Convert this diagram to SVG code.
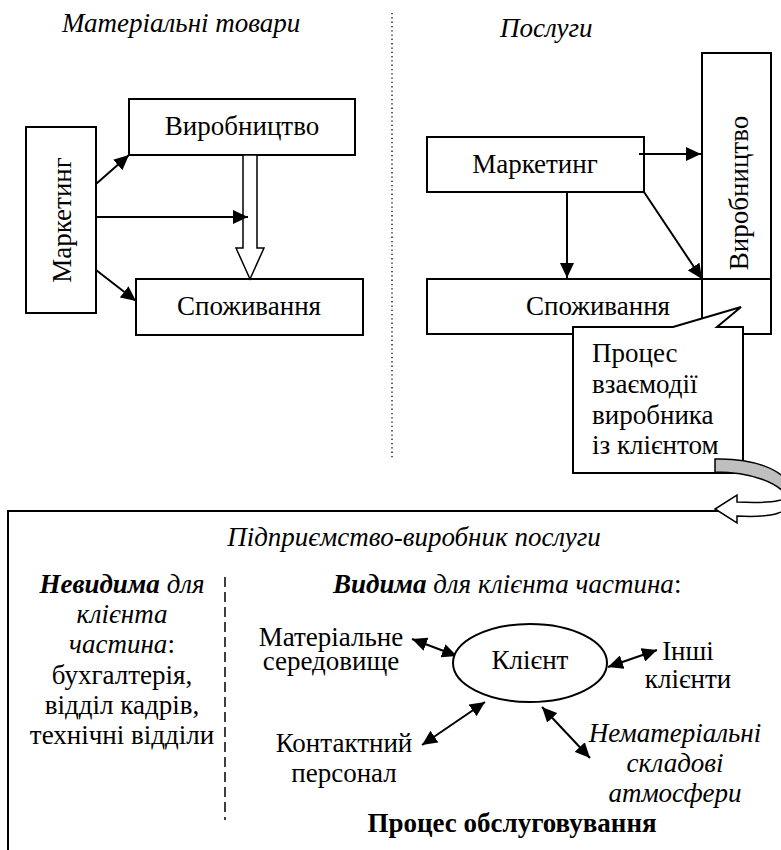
<svg xmlns="http://www.w3.org/2000/svg" width="781" height="850" viewBox="0 0 781 850">
<defs>
<style>
text{font-family:"Liberation Serif","Times New Roman",serif;font-size:27px;fill:#000}
.it{font-style:italic}
.b{font-weight:bold}
.m{text-anchor:middle}
.box{fill:#fff;stroke:#000;stroke-width:2}
.arr{stroke:#000;stroke-width:2;fill:none;marker-end:url(#ah)}
.dbl{stroke:#000;stroke-width:2;fill:none;marker-end:url(#ah);marker-start:url(#ah)}
</style>
<marker id="ah" markerUnits="userSpaceOnUse" markerWidth="16" markerHeight="14" refX="15" refY="7" orient="auto-start-reverse">
<path d="M0,0 L15,7 L0,14 Z" fill="#000"/>
</marker>
</defs>
<rect width="781" height="850" fill="#fff"/>

<text class="it" x="62" y="32">Матеріальні товари</text>
<text class="it" x="500" y="37">Послуги</text>
<line x1="392" y1="13" x2="392" y2="458" stroke="#000" stroke-width="1.3" stroke-dasharray="1.3,3"/>

<g id="l-vyrob"><rect class="box" x="129" y="99" width="226" height="56"/><text class="m" x="242" y="135">Виробництво</text></g>
<g id="l-market"><rect class="box" x="26" y="127" width="70" height="186"/><text class="m" transform="translate(71,220) rotate(-90)">Маркетинг</text></g>
<g id="l-spoz"><rect class="box" x="136" y="279" width="227" height="56"/><text class="m" x="249" y="315">Споживання</text></g>

<g id="r-vyrob"><rect class="box" x="702" y="53" width="69" height="281"/><text class="m" transform="translate(748,193) rotate(-90)">Виробництво</text></g>
<g id="r-spoz"><rect x="427" y="279" width="344" height="55" fill="none" stroke="#000" stroke-width="2"/><text class="m" x="598" y="315">Споживання</text></g>
<g id="r-market"><rect class="box" x="427" y="137" width="217" height="55"/><text class="m" x="535" y="173">Маркетинг</text></g>

<g id="connectors">
<polygon points="243,155 257,155 257,248 264,248 250,279 236,248 243,248" fill="#fff" stroke="#000" stroke-width="1.5"/>
<line class="arr" x1="96" y1="184" x2="129" y2="155"/>
<line class="arr" x1="96" y1="217" x2="248" y2="217"/>
<line class="arr" x1="96" y1="270" x2="136" y2="301"/>
<line class="arr" x1="639" y1="154" x2="701" y2="154"/>
<line class="arr" x1="567" y1="192" x2="567" y2="278"/>
<line class="arr" x1="644" y1="192" x2="702" y2="279"/>
<line class="dbl" x1="412" y1="639" x2="457" y2="656"/>
<line class="dbl" x1="608" y1="667" x2="657" y2="650"/>
<line class="dbl" x1="422" y1="745" x2="485" y2="702"/>
<line class="dbl" x1="542" y1="707" x2="590" y2="758"/>
</g>

<g id="callout">
<path d="M573,327 L673,327 L741,307 L717,327 L743,327 L743,473 L573,473 Z" fill="#fff" stroke="#000" stroke-width="2"/>
<text x="592" y="362">Процес</text>
<text x="592" y="393">взаємодії</text>
<text x="592" y="424">виробника</text>
<text x="592" y="454">із клієнтом</text>
</g>

<g id="enterprise">
<rect x="8" y="511" width="820" height="400" fill="none" stroke="#000" stroke-width="2"/>
<text class="it m" x="414" y="546">Підприємство-виробник послуги</text>
<line x1="225" y1="577" x2="225" y2="820" stroke="#000" stroke-width="1.5" stroke-dasharray="10,5"/>
<text class="m" x="122" y="593"><tspan class="b it">Невидима</tspan><tspan class="it"> для</tspan></text>
<text class="it m" x="122" y="623">клієнта</text>
<text class="m" x="122" y="653"><tspan class="it">частина</tspan>:</text>
<text class="m" x="122" y="684">бухгалтерія,</text>
<text class="m" x="122" y="714">відділ кадрів,</text>
<text class="m" x="122" y="744">технічні відділи</text>
<text x="333" y="593"><tspan class="b it">Видима</tspan><tspan class="it"> для клієнта частина</tspan>:</text>
</g>

<g id="client"><ellipse cx="530" cy="663" rx="77" ry="39" fill="#fff" stroke="#000" stroke-width="2"/><text class="m" x="530" y="669">Клієнт</text></g>
<g id="env"><text class="m" x="331" y="646">Матеріальне</text><text class="m" x="331" y="670">середовище</text></g>
<g id="others"><text class="m" x="688" y="660">Інші</text><text class="m" x="688" y="688">клієнти</text></g>
<g id="staff"><text class="m" x="344" y="752">Контактний</text><text class="m" x="344" y="782">персонал</text></g>
<g id="atmo"><text class="it m" x="675" y="742">Нематеріальні</text><text class="it m" x="675" y="772">складові</text><text class="it m" x="675" y="802">атмосфери</text></g>
<text class="b m" x="512" y="832">Процес обслуговування</text>

<g id="curved-arrow">
<path d="M715,459 C750,458 785,468 792,490 L790,500 C780,482 750,472 715,472 Z" fill="#bfbfbf" stroke="#000" stroke-width="1.5"/>
<path d="M792,490 C792,500 775,504 737,502 L737,495 L715,509 L737,523 L737,516 C775,518 790,512 790,500" fill="#fff" stroke="#000" stroke-width="1.5"/>
</g>
</svg>
